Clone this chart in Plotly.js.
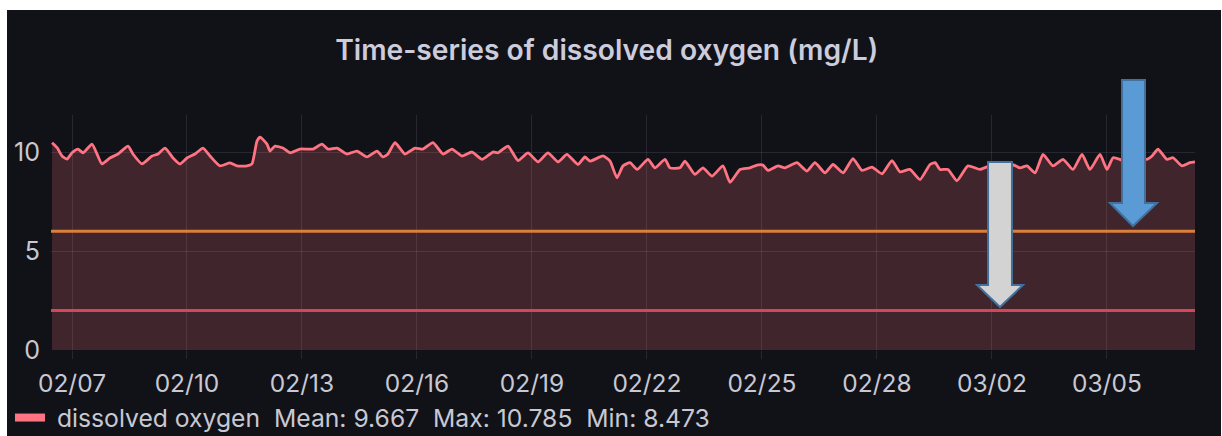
<!DOCTYPE html>
<html>
<head>
<meta charset="utf-8">
<script src="https://cdn.plot.ly/plotly-3.0.1.min.js"></script>
<style>
  html, body { margin: 0; padding: 0; background: #ffffff; width: 1222px; height: 436px; overflow: hidden; }
  #chart { position: absolute; left: 7px; top: 10px; width: 1214px; height: 426px; }
</style>
</head>
<body>
<div id="chart"></div>
<script>
// ---- data ----
const times = [
"2024-02-06 11:30","2024-02-06 14:40","2024-02-06 17:45","2024-02-06 20:50","2024-02-07 00:00",
"2024-02-07 03:45","2024-02-07 06:55","2024-02-07 12:30","2024-02-07 15:40","2024-02-07 18:45",
"2024-02-07 23:45","2024-02-08 04:50","2024-02-08 11:05","2024-02-08 14:10","2024-02-08 19:50",
"2024-02-09 02:05","2024-02-09 05:50","2024-02-09 10:15","2024-02-09 15:15","2024-02-09 19:35",
"2024-02-10 00:00","2024-02-10 05:00","2024-02-10 10:00","2024-02-10 14:25","2024-02-10 20:40",
"2024-02-11 02:55","2024-02-11 07:20","2024-02-11 13:35","2024-02-11 16:40","2024-02-11 19:50",
"2024-02-11 21:45","2024-02-12 02:05","2024-02-12 04:00","2024-02-12 07:05","2024-02-12 12:05",
"2024-02-12 16:30","2024-02-12 22:45","2024-02-13 06:55","2024-02-13 12:30","2024-02-13 16:20",
"2024-02-13 21:55","2024-02-14 04:10","2024-02-14 10:25","2024-02-14 16:40","2024-02-14 23:00",
"2024-02-15 02:40","2024-02-15 05:50","2024-02-15 10:15","2024-02-15 16:30","2024-02-15 22:45",
"2024-02-16 03:45","2024-02-16 10:00","2024-02-16 16:20","2024-02-16 21:55","2024-02-17 04:10",
"2024-02-17 10:30","2024-02-17 16:45","2024-02-17 23:35","2024-02-18 02:45","2024-02-18 09:00",
"2024-02-18 15:15","2024-02-18 21:30","2024-02-19 03:50","2024-02-19 10:00","2024-02-19 16:20",
"2024-02-19 21:55","2024-02-20 04:50","2024-02-20 09:10","2024-02-20 12:20","2024-02-20 20:30",
"2024-02-21 00:55","2024-02-21 05:15","2024-02-21 09:00","2024-02-21 13:25","2024-02-21 17:50",
"2024-02-22 00:40","2024-02-22 05:00","2024-02-22 11:20","2024-02-22 14:25","2024-02-22 20:40",
"2024-02-22 23:50","2024-02-23 06:05","2024-02-23 11:05","2024-02-23 16:45","2024-02-23 23:35",
"2024-02-24 04:00","2024-02-24 10:15","2024-02-24 16:30","2024-02-24 20:55","2024-02-25 00:40",
"2024-02-25 03:50","2024-02-25 10:05","2024-02-25 14:25","2024-02-25 21:55","2024-02-26 04:10",
"2024-02-26 09:10","2024-02-26 15:30","2024-02-26 20:30","2024-02-27 02:50","2024-02-27 09:00",
"2024-02-27 14:40","2024-02-27 20:55","2024-02-28 03:10","2024-02-28 09:25","2024-02-28 14:25",
"2024-02-28 20:40","2024-02-29 03:00","2024-02-29 09:15","2024-02-29 12:25","2024-02-29 15:30",
"2024-02-29 20:30","2024-03-01 02:05","2024-03-01 09:00","2024-03-01 16:30","2024-03-01 22:50",
"2024-03-02 05:05","2024-03-02 12:35","2024-03-02 17:35","2024-03-02 22:00","2024-03-03 03:00",
"2024-03-03 08:00","2024-03-03 14:15","2024-03-03 20:30","2024-03-04 02:45","2024-03-04 08:25",
"2024-03-04 13:25","2024-03-04 19:40","2024-03-05 00:05","2024-03-05 03:50","2024-03-05 08:10",
"2024-03-05 14:30","2024-03-05 20:45","2024-03-06 01:05","2024-03-06 04:15","2024-03-06 08:00",
"2024-03-06 13:35","2024-03-06 17:25","2024-03-06 23:00","2024-03-07 04:00","2024-03-07 07:10"
];
const dissolvedOxygen = [
10.47,10.22,9.80,9.64,9.96,
10.15,9.96,10.40,9.90,9.40,
9.70,9.90,10.30,9.90,9.40,
9.80,9.90,10.20,9.70,9.40,
9.70,9.90,10.20,9.80,9.30,
9.45,9.30,9.30,9.40,10.55,
10.75,10.40,10.05,10.30,10.20,
9.96,10.15,10.15,10.40,10.15,
10.20,9.90,10.05,9.75,10.05,
9.75,9.90,10.47,9.90,10.20,
10.15,10.47,9.90,10.15,9.80,
10.00,9.63,10.00,9.96,10.30,
9.57,9.96,9.50,9.96,9.50,
9.88,9.37,9.75,9.54,9.80,
9.54,8.70,9.30,9.46,9.12,
9.63,9.20,9.63,9.20,9.20,
9.54,8.87,9.20,8.78,9.30,
8.47,9.12,9.20,9.34,9.34,
9.07,9.30,9.20,9.46,9.04,
9.46,8.95,9.37,8.95,9.67,
9.07,9.24,8.90,9.57,9.00,
9.12,8.61,9.37,9.46,9.12,
9.12,8.55,9.30,9.12,9.30,
9.10,9.37,9.20,9.30,8.95,
9.88,9.30,9.63,9.12,9.88,
9.12,9.88,9.12,9.71,9.63,
9.40,9.70,9.63,9.80,10.14,
9.63,9.71,9.30,9.46,9.50
];
const seriesName = "dissolved oxygen";
const statLabels = ["Mean", "Max", "Min"];
const statValues = ["9.667", "10.785", "8.473"];
const thresholds = [6, 2];
const thresholdColors = ["#dc7f38", "#d4475a"];
const xRange = ["2024-02-06 10:51", "2024-03-07 07:10"];
const yRange = [0, 11.87];
const yTicks = [0, 5, 10];

// ---- layout helpers ----
const M = { l: 44, r: 26, t: 105, b: 86 };
const W = 1214, H = 426;
const PW = W - M.l - M.r, PH = H - M.t - M.b;
const OFF = { x: 7, y: 10 };
function pp(xPage, yPage) {
  const x = (xPage - OFF.x - M.l) / PW;
  const y = 1 - (yPage - OFF.y - M.t) / PH;
  return x.toFixed(4) + "," + y.toFixed(4);
}
function arrowPath(left, right, top, headTop, headL, headR, tipX, tipY) {
  return "M" + pp(left, top) + " L" + pp(right, top) + " L" + pp(right, headTop) +
    " L" + pp(headR, headTop) + " L" + pp(tipX, tipY) + " L" + pp(headL, headTop) +
    " L" + pp(left, headTop) + " Z";
}

const legendName = "\u00a0" + seriesName + "\u00a0\u00a0" +
  statLabels.map((l, i) => l + ": " + statValues[i]).join("\u00a0\u00a0");

const traces = [
  {
    x: times, y: dissolvedOxygen, type: "scatter", mode: "lines",
    line: { color: "#ff7383", width: 2.8, shape: "spline", smoothing: 0.5 },
    fill: "tozeroy", fillcolor: "rgba(255,115,131,0.2)",
    showlegend: false, hoverinfo: "skip"
  },
  {
    x: [null], y: [null], type: "scatter", mode: "lines",
    line: { color: "#ff7383", width: 8 },
    name: legendName, showlegend: true
  }
];

const gridColor = "rgba(204,204,220,0.12)";
const textColor = "#c8c8d3";

const shapes = thresholds.map((t, i) => ({
  type: "line", xref: "paper", yref: "y", x0: 0, x1: 1, y0: t, y1: t,
  line: { color: thresholdColors[i], width: 3 }, layer: "above"
}));
shapes.push({
  type: "path", xref: "paper", yref: "paper", layer: "above",
  path: arrowPath(988, 1012, 162, 285, 977, 1023, 1000, 307),
  fillcolor: "#d3d3d3", line: { color: "#41719c", width: 2 }
});
shapes.push({
  type: "path", xref: "paper", yref: "paper", layer: "above",
  path: arrowPath(1122, 1145, 80, 203, 1110, 1157, 1133, 226),
  fillcolor: "#5b9bd5", line: { color: "#41719c", width: 2 }
});

const layout = {
  width: W, height: H,
  margin: M,
  paper_bgcolor: "#111217", plot_bgcolor: "#111217",
  font: { family: "Inter, 'Noto Sans', sans-serif", color: textColor, size: 24 },
  title: {
    text: "Time-series of dissolved oxygen (mg/L)",
    font: { family: "Inter, sans-serif", size: 28.2, color: "#ccccdc", weight: 600 },
    x: 0.494, xref: "container", xanchor: "center",
    y: 1 - 40 / H, yref: "container", yanchor: "middle"
  },
  xaxis: {
    type: "date", range: xRange,
    tickformat: "%m/%d", tick0: "2024-02-07", dtick: 3 * 24 * 3600 * 1000,
    showgrid: true, gridcolor: gridColor, gridwidth: 1,
    ticks: "outside", ticklen: 8, tickcolor: gridColor, tickwidth: 1,
    ticklabelstandoff: 4,
    zeroline: false, showline: false,
    tickfont: { size: 24.5, color: textColor }
  },
  yaxis: {
    range: yRange, tickvals: yTicks, ticktext: yTicks.map(String),
    showgrid: true, gridcolor: gridColor, gridwidth: 1,
    zeroline: false, showline: false,
    ticklabelstandoff: 10,
    tickfont: { size: 25, color: textColor }
  },
  showlegend: true,
  legend: {
    orientation: "h", xref: "container", yref: "container",
    x: 3 / W, xanchor: "left", y: 1 - 408 / H, yanchor: "middle",
    bgcolor: "rgba(0,0,0,0)",
    font: { size: 24.7, color: textColor }
  },
  shapes: shapes
};

Plotly.newPlot("chart", traces, layout, { displayModeBar: false, staticPlot: true });
</script>
</body>
</html>
